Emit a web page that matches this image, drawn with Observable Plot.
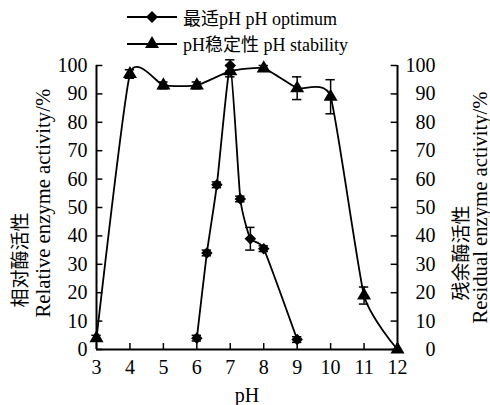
<!DOCTYPE html>
<html>
<head>
<meta charset="utf-8">
<script src="https://cdn.jsdelivr.net/npm/d3@7"></script>
<script src="https://cdn.jsdelivr.net/npm/@observablehq/plot@0.6"></script>
<style>
  html, body { margin: 0; padding: 0; background: #fff; }
  body { width: 490px; height: 405px; overflow: hidden; font-family: "Liberation Serif", "Times New Roman", Tinos, "DejaVu Serif", "Noto Sans CJK SC", serif; }
  #legend { position: relative; height: 55px; width: 490px; }
  .row { position: absolute; left: 127px; display: flex; align-items: center; height: 24px; font-size: 18px; color: #000; white-space: nowrap; }
  .row svg { display: block; margin-right: 6px; }
</style>
</head>
<body>
<div id="legend">
  <div class="row" style="top:5px">
    <svg width="50" height="20"><line x1="0" y1="10" x2="50" y2="10" stroke="#000" stroke-width="2"/><path d="M25,4 L31,10 L25,16 L19,10 Z" fill="#000"/></svg>
    <span>最适pH pH optimum</span>
  </div>
  <div class="row" style="top:31px">
    <svg width="50" height="20"><line x1="0" y1="11" x2="50" y2="11" stroke="#000" stroke-width="2"/><path d="M25,3 L32,15 L18,15 Z" fill="#000"/></svg>
    <span>pH稳定性 pH stability</span>
  </div>
</div>
<div id="chart"></div>
<script>
// pH stability (triangles)
const stabPH  = [3, 4, 5, 6, 7, 8, 9, 10, 11, 12];
const stabVal = [4, 97, 93, 93, 98, 99, 92, 89, 19, 0];
const stabErr = [1, 1.5, 1.2, 1.2, 2, 1, 4, 6, 3, 0];
// pH optimum (diamonds)
const optPH  = [6, 6.3, 6.6, 7, 7.3, 7.6, 8, 9];
const optVal = [4, 34, 58, 100, 53, 39, 35.5, 3.5];
const optErr = [1, 1, 1, 2, 1, 4, 1, 1];
// ticks
const xTicks = [3, 4, 5, 6, 7, 8, 9, 10, 11, 12];
const yTicks = [0, 10, 20, 30, 40, 50, 60, 70, 80, 90, 100];

const stab = stabPH.map((x, i) => ({x, y: stabVal[i], e: stabErr[i]}));
const opt = optPH.map((x, i) => ({x, y: optVal[i], e: optErr[i]}));
const errs = [...stab, ...opt].filter(d => d.e > 0);
const capW = 0.14;
const FONT = '"Liberation Serif", "Times New Roman", Tinos, "DejaVu Serif", "Noto Sans CJK SC", serif';
const smooth = d3.curveCardinal.tension(0.5);

const chart = Plot.plot({
  width: 490,
  height: 350,
  marginTop: 10,
  marginBottom: 56,
  marginLeft: 96,
  marginRight: 93,
  style: {fontFamily: FONT, fontSize: "20px", background: "#fff", color: "#000"},
  x: {domain: [3, 12], ticks: xTicks},
  y: {domain: [0, 100], ticks: yTicks},
  marks: [
    Plot.ruleY([0], {strokeWidth: 2}),
    Plot.ruleX([3, 12], {strokeWidth: 2}),
    Plot.ruleX(xTicks, {x: d => d, y1: 0, y2: 2.1, strokeWidth: 1.5}),
    Plot.ruleY(yTicks, {y: d => d, x1: 3, x2: 3.19, strokeWidth: 1.5}),
    Plot.ruleY(yTicks, {y: d => d, x1: 11.81, x2: 12, strokeWidth: 1.5}),
    Plot.axisX(xTicks, {tickSize: 0, tickPadding: 10, label: null, fontSize: 20}),
    Plot.axisY(yTicks, {anchor: "left", tickSize: 0, tickPadding: 9, label: null, fontSize: 20}),
    Plot.axisY(yTicks, {anchor: "right", tickSize: 0, tickPadding: 0, textAnchor: "end", dx: 38, label: null, fontSize: 20}),
    Plot.line(stab, {x: "x", y: "y", curve: smooth, strokeWidth: 1.8}),
    Plot.line(opt, {x: "x", y: "y", curve: smooth, strokeWidth: 1.8}),
    Plot.ruleX(errs, {x: "x", y1: d => d.y - d.e, y2: d => d.y + d.e, strokeWidth: 1.5}),
    Plot.ruleY(errs, {y: d => d.y + d.e, x1: d => d.x - capW, x2: d => d.x + capW, strokeWidth: 1.5}),
    Plot.ruleY(errs, {y: d => d.y - d.e, x1: d => d.x - capW, x2: d => d.x + capW, strokeWidth: 1.5}),
    Plot.dot(stab, {x: "x", y: "y", symbol: "triangle", r: 5.2, fill: "#000", stroke: "none"}),
    Plot.dot(opt, {x: "x", y: "y", symbol: "square", r: 4.6, rotate: 45, fill: "#000", stroke: "none"}),
    Plot.text(["pH"], {frameAnchor: "bottom", dy: 46, fontSize: 20, lineAnchor: "middle"}),
    Plot.text(["相对酶活性"], {frameAnchor: "bottom-left", dx: -76, dy: -42, rotate: -90, textAnchor: "start", lineAnchor: "middle", fontSize: 19}),
    Plot.text(["Relative enzyme activity/%"], {frameAnchor: "bottom-left", dx: -53, dy: -32, rotate: -90, textAnchor: "start", lineAnchor: "middle", fontSize: 20.7}),
    Plot.text(["残余酶活性"], {frameAnchor: "bottom-right", dx: 64, dy: -49, rotate: -90, textAnchor: "start", lineAnchor: "middle", fontSize: 19}),
    Plot.text(["Residual enzyme activity/%"], {frameAnchor: "bottom-right", dx: 83, dy: -26, rotate: -90, textAnchor: "start", lineAnchor: "middle", fontSize: 20.7})
  ]
});
document.getElementById("chart").appendChild(chart);
</script>
</body>
</html>
